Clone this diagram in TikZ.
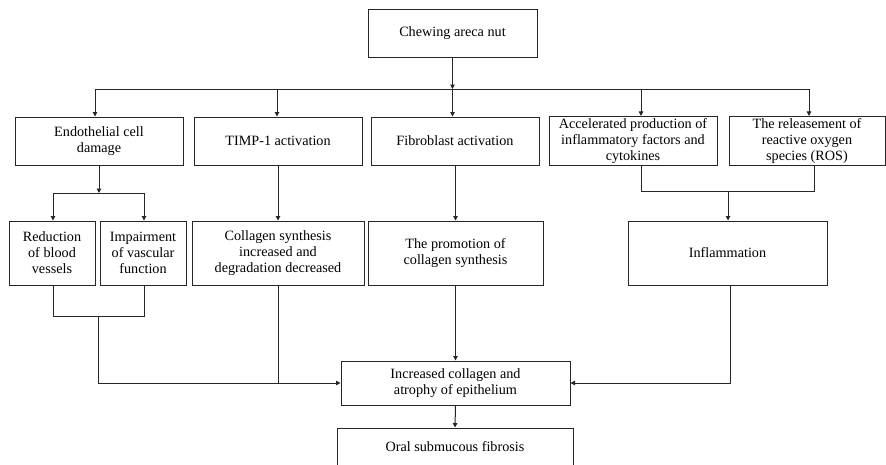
\documentclass[tikz,border=0pt]{standalone}
\usepackage{fontspec}
\setmainfont{Liberation Serif}
\usetikzlibrary{arrows.meta}
\begin{document}
\begin{tikzpicture}[x=1pt,y=-1pt,
  box/.style={draw=black!85, line width=1pt, rectangle, align=center, inner sep=2pt,
    font=\fontsize{14.2}{16}\selectfont, text=black},
  link/.style={draw=black!85, line width=1pt},
  arr/.style={link, -{Triangle[length=4.5pt,width=4.5pt]}}]
\clip (0,0) rectangle (886,464);
% nodes
\node[box, minimum width=169, minimum height=48] (top) at (452.5,33) {Chewing areca nut};
\node[box, minimum width=168, minimum height=48] (endo) at (99,141) {Endothelial cell\\damage};
\node[box, minimum width=168, minimum height=48] (timp) at (278,141) {TIMP-1 activation};
\node[box, minimum width=168, minimum height=48] (fib) at (455,141) {Fibroblast activation};
\node[box, minimum width=168, minimum height=48] (acc) at (633,141) {Accelerated production of\\inflammatory factors and\\cytokines};
\node[box, minimum width=156, minimum height=48] (ros) at (807,141) {The releasement of\\reactive oxygen\\species (ROS)};
\node[box, minimum width=86, minimum height=64] (red) at (52,253) {Reduction\\of blood\\vessels};
\node[box, minimum width=86, minimum height=64] (imp) at (143,253) {Impairment\\of vascular\\function};
\node[box, minimum width=172, minimum height=64] (col) at (278,253) {Collagen synthesis\\increased and\\degradation decreased};
\node[box, minimum width=175, minimum height=64] (prom) at (455.5,253) {The promotion of\\collagen synthesis};
\node[box, minimum width=199, minimum height=64] (infl) at (727.5,253) {Inflammation};
\node[box, minimum width=229, minimum height=44] (inc) at (455.5,383) {Increased collagen and\\atrophy of epithelium};
\node[box, minimum width=236, minimum height=38] (oral) at (455,447) {Oral submucous fibrosis};
% coordinates
\coordinate (bj) at (452.5,89);
\coordinate (b1) at (95,89);
\coordinate (b2) at (277,89);
\coordinate (b4) at (641,89);
\coordinate (b5) at (809,89);
\coordinate (ej) at (99,193);
\coordinate (e1) at (53,193);
\coordinate (e2) at (144,193);
\coordinate (aj) at (641,191);
\coordinate (rj) at (814,191);
\coordinate (ij) at (728,191);
\coordinate (rr) at (53,316);
\coordinate (ri) at (144,316);
\coordinate (rm) at (98,316);
\coordinate (rc) at (98,383);
\coordinate (cj) at (278,383);
\coordinate (fj) at (730,383);
% connectors
\draw[arr] (top.south -| bj) -- (bj);
\draw[link] (b1) -- (b5);
\draw[arr] (b1) -- (b1 |- endo.north);
\draw[arr] (b2) -- (b2 |- timp.north);
\draw[arr] (bj) -- (bj |- fib.north);
\draw[arr] (b4) -- (b4 |- acc.north);
\draw[arr] (b5) -- (b5 |- ros.north);
\draw[arr] (endo.south) -- (ej);
\draw[link] (e1) -- (e2);
\draw[arr] (e1) -- (e1 |- red.north);
\draw[arr] (e2) -- (e2 |- imp.north);
\draw[arr] (timp.south -| col.north) -- (col.north);
\draw[arr] (fib.south -| prom.north) -- (prom.north);
\draw[link] (aj |- acc.south) -- (aj) -- (rj) -- (rj |- ros.south);
\draw[arr] (ij) -- (ij |- infl.north);
\draw[link] (rr |- red.south) -- (rr) -- (ri) -- (ri |- imp.south);
\draw[arr] (rm) -- (rc) -- (inc.west);
\draw[link] (col.south) -- (cj);
\draw[arr] (prom.south -| inc.north) -- (inc.north);
\draw[arr] (fj |- infl.south) -- (fj) -- (inc.east);
\draw[arr] (inc.south) -- (oral.north);
\end{tikzpicture}
\end{document}
